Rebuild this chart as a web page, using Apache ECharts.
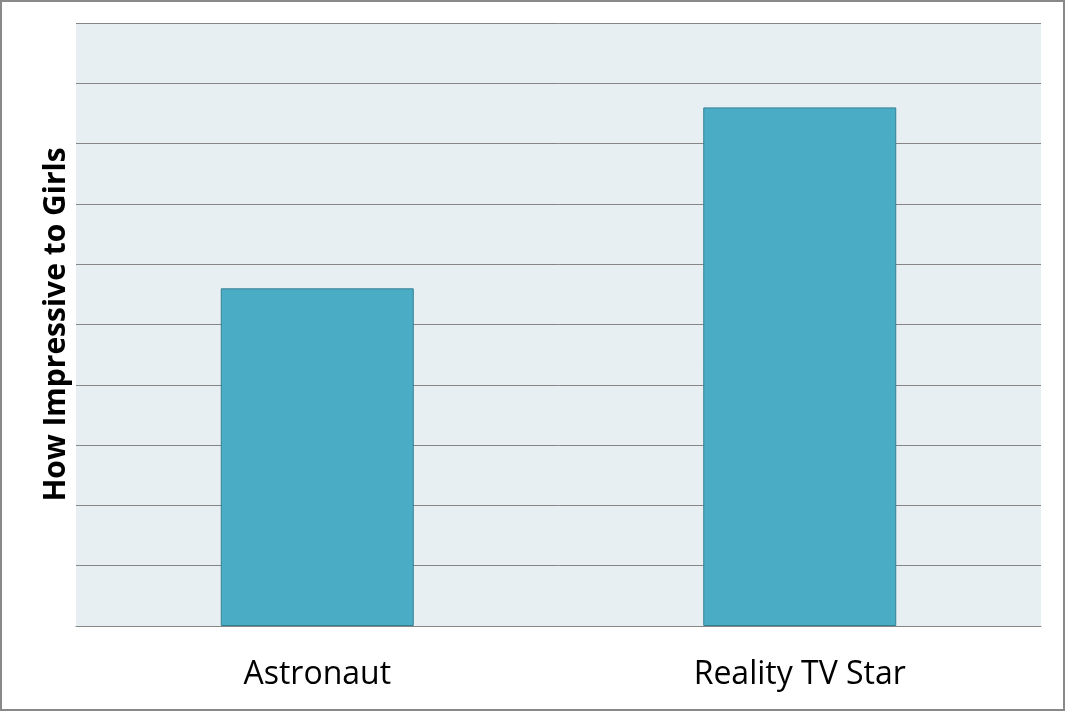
<!DOCTYPE html>
<html>
<head>
<meta charset="utf-8">
<script src="https://cdn.jsdelivr.net/npm/echarts@6/dist/echarts.min.js"></script>
<style>
  html, body { margin: 0; padding: 0; background: #fff; }
  #chart { width: 1065px; height: 711px; }
</style>
</head>
<body>
<div id="chart"></div>
<script>
// data
const categories = ['Astronaut', 'Reality TV Star'];
const impressValues = [5.6, 8.6];
const yAxisTitle = 'How Impressive to Girls';

const chart = echarts.init(document.getElementById('chart'));
chart.setOption({
  animation: false,
  grid: {
    left: 76,
    right: 24,
    top: 23,
    bottom: 85,
    show: true,
    backgroundColor: '#E8EFF3',
    borderWidth: 0
  },
  graphic: [
    {
      type: 'rect',
      shape: { x: 1, y: 1, width: 1063, height: 709 },
      style: { fill: 'none', stroke: '#898989', lineWidth: 2 },
      z: 100
    }
  ],
  xAxis: {
    type: 'category',
    data: categories,
    axisLine: { lineStyle: { color: '#868686', width: 1 } },
    axisTick: { show: false },
    axisLabel: {
      color: '#000',
      fontSize: 32,
      fontFamily: 'Open Sans',
      margin: 33
    }
  },
  yAxis: {
    type: 'value',
    min: 0,
    max: 10,
    interval: 1,
    name: yAxisTitle,
    nameLocation: 'middle',
    nameRotate: 90,
    nameGap: 5,
    nameTextStyle: {
      color: '#000',
      fontSize: 30,
      fontWeight: 'bold',
      fontFamily: 'Open Sans'
    },
    axisLine: { show: false },
    axisTick: { show: false },
    axisLabel: { show: false },
    splitLine: { lineStyle: { color: '#868686', width: 1 } }
  },
  series: [
    {
      type: 'bar',
      data: impressValues,
      barWidth: '40%',
      itemStyle: {
        color: '#4BACC6',
        borderColor: '#357F93',
        borderWidth: 1
      }
    }
  ]
});
</script>
</body>
</html>
